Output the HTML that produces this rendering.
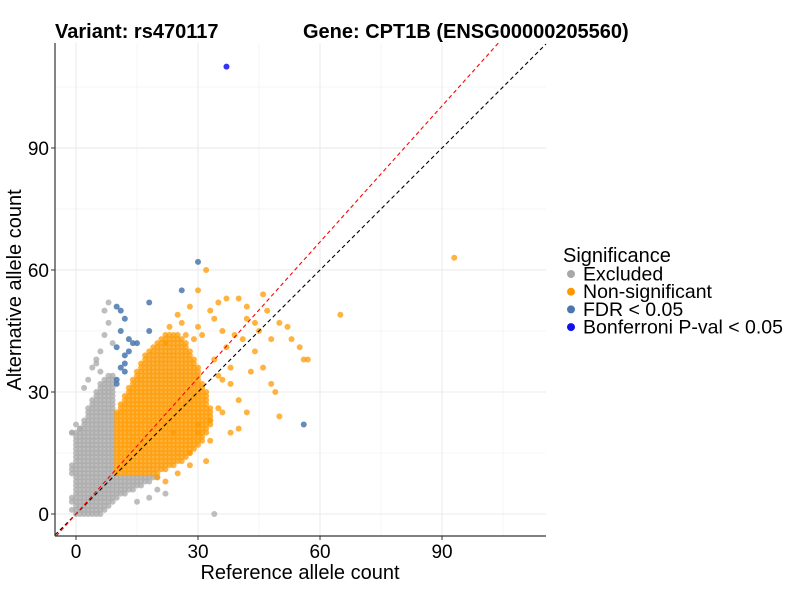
<!DOCTYPE html>
<html><head><meta charset="utf-8"><style>
body{margin:0;background:#fff;font-family:"Liberation Sans",Arial,sans-serif}
svg text{font-family:"Liberation Sans",Arial,sans-serif}
</style></head><body>
<svg id="chart" width="800" height="600" viewBox="0 0 800 600">
<rect width="800" height="600" fill="#fff"/>
<g id="grid"></g>
<g id="pts"></g>
<g id="lines"></g>
<g id="axes"></g>
<text x="55" y="38" font-size="20" font-weight="bold">Variant: rs470117</text>
<text x="303" y="38" font-size="20" font-weight="bold">Gene: CPT1B (ENSG00000205560)</text>
<text x="300" y="579" font-size="20" text-anchor="middle">Reference allele count</text>
<text transform="translate(21,290) rotate(-90)" font-size="20" text-anchor="middle">Alternative allele count</text>
<g id="legend">
<text x="563" y="262" font-size="20">Significance</text>
</g>
</svg>
<script>
const xTicks=[0,30,60,90];
const yTicks=[0,30,60,90];
const minorTicks=[15,45,75,105];
const legendLabels=["Excluded","Non-significant","FDR < 0.05","Bonferroni P-val < 0.05"];
// dense rows: [y, xmin, xmax]
const orangeRows=[[10,10,20],[11,10,22],[12,10,24],[13,10,25],[14,10,27],[15,10,28],[16,10,29],[17,10,30],[18,10,31],[19,10,31],[20,10,32],[21,10,32],[22,10,33],[23,10,33],[24,10,33],[25,10,33],[26,11,33],[27,11,32],[28,12,32],[29,12,32],[30,13,32],[31,13,31],[32,14,31],[33,14,30],[34,15,30],[35,15,30],[36,16,30],[37,16,29],[38,17,29],[39,17,28],[40,18,28],[41,19,27],[42,20,27],[43,21,26],[44,22,25]];
const grayRows=[[0,0,6],[1,-1,7],[2,0,8],[3,-1,9],[4,-1,10],[5,0,12],[6,0,14],[7,0,16],[8,0,18],[9,0,20],[10,-1,9],[11,-1,9],[12,-1,9],[13,0,9],[14,0,9],[15,0,9],[16,0,9],[17,0,9],[18,0,9],[19,0,9],[20,-1,9],[21,1,9],[22,2,9],[23,2,9],[24,3,9],[25,3,9],[26,3,9],[27,4,9],[28,4,9],[29,5,9],[30,5,9],[31,6,9],[32,6,9],[33,7,9],[34,8,9]];
const grayX=[8,7,5,6,0,-1,34,18,15,4,6,3,2,7,8,22,20,1,9,5];
const grayY=[52,50,38,40,22,20,0,4,3,36,35,33,31,44,47,5,6,21,42,37];
const orangeX=[93,32,65,46,52,50,55,56,57,53,48,45,44,42,40,37,35,33,28,30,25,23,41,44,46,49,48,43,40,42,50,38,38,36,35,34,38,36,33,30,28,26,30,24,20,22,25,28,32,35,37,39,30,31,26,22,40,33,34,42,47,36,29,27];
const orangeY=[63,60,49,54,46,47,41,38,38,43,43,45,47,51,53,53,52,50,51,55,49,46,43,40,36,30,32,35,28,25,24,36,32,33,26,38,20,25,18,22,15,13,20,20,9,8,10,12,13,34,41,44,46,44,47,42,21,23,48,48,50,45,43,44];
const fdrX=[56,30,26,18,10,11,12,11,18,13,14,15,10,13,12,12,11,12,10,10];
const fdrY=[22,62,55,52,51,50,48,45,45,43,42,42,41,40,39,37,36,35,33,32];
const bonfX=[37];
const bonfY=[110];

const NS='http://www.w3.org/2000/svg';
const X0=55,X1=546,Y0=43,Y1=536;
const sx=v=>76+v*4.067;
const sy=v=>514-v*4.067;
function mk(tag,attrs,parent){const e=document.createElementNS(NS,tag);for(const k in attrs)e.setAttribute(k,attrs[k]);parent.appendChild(e);return e;}
const grid=document.getElementById('grid');
minorTicks.forEach(t=>{
 let l=mk('line',{x1:sx(t),x2:sx(t),y1:Y0,y2:Y1,stroke:'#f0f0f0','stroke-width':0.6},grid);
 
 l=mk('line',{x1:X0,x2:X1,y1:sy(t),y2:sy(t),stroke:'#f0f0f0','stroke-width':0.6},grid);
 
});
xTicks.forEach(t=>{const l=mk('line',{x1:sx(t),x2:sx(t),y1:Y0,y2:Y1,stroke:'#ebebeb','stroke-width':1.1},grid);
 });
yTicks.forEach(t=>{const l=mk('line',{x1:X0,x2:X1,y1:sy(t),y2:sy(t),stroke:'#ebebeb','stroke-width':1.1},grid);
 });

const pts=document.getElementById('pts');
function dot(x,y,fill,op,name){const c=mk('circle',{cx:sx(x),cy:sy(y),r:3,fill:fill,'fill-opacity':op},pts);
 }
grayRows.forEach(r=>{for(let x=r[1];x<=r[2];x++)dot(x,r[0],'#a8a8a8',0.75,'excluded-point');});
grayX.forEach((x,i)=>dot(x,grayY[i],'#a8a8a8',0.75,'excluded-point'));
orangeRows.forEach(r=>{for(let x=r[1];x<=r[2];x++)dot(x,r[0],'#ff9900',0.75,'nonsig-point');});
orangeX.forEach((x,i)=>dot(x,orangeY[i],'#ff9900',0.75,'nonsig-point'));
fdrX.forEach((x,i)=>dot(x,fdrY[i],'#4a78ad',0.85,'fdr-point'));
bonfX.forEach((x,i)=>dot(x,bonfY[i],'#1010f0',0.85,'bonferroni-point'));

const lines=document.getElementById('lines');
const xmin=(X0-76)/4.067, xmax=(X1-76)/4.067, ytop=(514-Y0)/4.067, ybot=(514-Y1)/4.067;
let l=mk('line',{x1:sx(xmin),y1:sy(xmin),x2:sx(xmax),y2:sy(xmax),stroke:'#000','stroke-width':1.1,'stroke-dasharray':'4,3'},lines);

const slope=1.115;
l=mk('line',{x1:sx(ybot/slope),y1:sy(ybot),x2:sx(ytop/slope),y2:sy(ytop),stroke:'#ff0000','stroke-width':1.1,'stroke-dasharray':'4,3'},lines);


const axes=document.getElementById('axes');
l=mk('line',{x1:X0,x2:X0,y1:Y0,y2:Y1,stroke:'#333','stroke-width':1.2},axes);

l=mk('line',{x1:X0,x2:X1,y1:Y1,y2:Y1,stroke:'#333','stroke-width':1.2},axes);

xTicks.forEach(t=>{let k=mk('line',{x1:sx(t),x2:sx(t),y1:Y1,y2:Y1+4,stroke:'#333'},axes);
 
 const tx=mk('text',{x:sx(t),y:558,'font-size':19,'text-anchor':'middle',fill:'#000'},axes);tx.textContent=t;
 });
yTicks.forEach(t=>{let k=mk('line',{x1:X0-4,x2:X0,y1:sy(t),y2:sy(t),stroke:'#333'},axes);
 
 const tx=mk('text',{x:49,y:sy(t)+7,'font-size':19,'text-anchor':'end',fill:'#000'},axes);tx.textContent=t;
 });

const legend=document.getElementById('legend');
const lc=['#a8a8a8','#ff9900','#4a78ad','#1010f0'];
legendLabels.forEach((s,i)=>{const y=274+i*17.7;
 const c=mk('circle',{cx:571,cy:y,r:4,fill:lc[i]},legend);
 
 const t=mk('text',{x:583,y:y+6.5,'font-size':19.5},legend);t.textContent=s;
 });
</script>
</body></html>
